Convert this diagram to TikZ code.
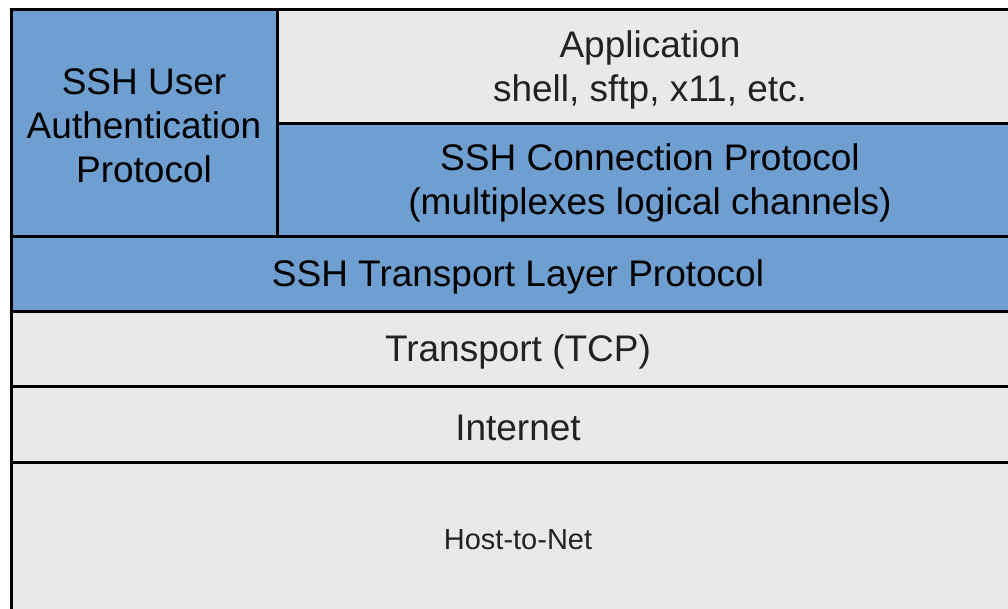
\documentclass[tikz,border=0pt]{standalone}
\usepackage{fontspec}
\setmainfont{Liberation Sans}
\definecolor{sshblue}{HTML}{6F9FD1}
\definecolor{layergray}{HTML}{E9E9E9}
\definecolor{inkgray}{HTML}{222222}
\tikzset{
  layer/.style={draw=black, line width=3pt, rectangle, inner sep=0pt, outer sep=0pt},
  sshlayer/.style={layer, fill=sshblue},
  netlayer/.style={layer, fill=layergray},
  caption/.style={inner sep=0pt, align=center, font=\fontsize{37}{44}\selectfont},
  sshtext/.style={caption, text=black},
  nettext/.style={caption, text=inkgray},
}
\begin{document}
\begin{tikzpicture}[x=1pt, y=-1pt]
  \useasboundingbox (0,0) rectangle (1008,608);
  \clip (0,0) rectangle (1008,608);
  % left column: authentication
  \node[sshlayer, minimum width=266pt, minimum height=227pt] (auth) at (144,122.5) {};
  % right column: application over connection protocol
  \node[netlayer, minimum width=746pt, minimum height=114pt] (app) at (650,66) {};
  \node[sshlayer, minimum width=746pt, minimum height=113pt] (conn) at (650,179.5) {};
  % full-width layers
  \node[sshlayer, minimum width=1014pt, minimum height=75pt] (sshtl) at (518,273.5) {};
  \node[netlayer, minimum width=1014pt, minimum height=75pt] (tcp) at (518,348.5) {};
  \node[netlayer, minimum width=1014pt, minimum height=76pt] (inet) at (518,424) {};
  \node[netlayer, minimum width=1014pt, minimum height=150pt] (host) at (518,537) {};
  % layer captions
  \node[sshtext] (authtxt) at ([yshift=-3.5pt]auth.center) {SSH User\\Authentication\\Protocol};
  \node[nettext] (apptxt) at ([yshift=-3.5pt]app.center) {Application\\shell, sftp, x11, etc.};
  \node[sshtext] (conntxt) at ([yshift=-3.5pt]conn.center) {SSH Connection Protocol\\(multiplexes logical channels)};
  \node[sshtext] (sshtltxt) at ([yshift=-3.5pt]sshtl.center) {SSH Transport Layer Protocol};
  \node[nettext] (tcptxt) at ([yshift=-3.5pt]tcp.center) {Transport (TCP)};
  \node[nettext] (inettxt) at ([yshift=-3.5pt]inet.center) {Internet};
  \node[nettext, font=\fontsize{29}{34}\selectfont] (hosttxt) at ([yshift=-3pt]host.center) {Host-to-Net};
\end{tikzpicture}
\end{document}
